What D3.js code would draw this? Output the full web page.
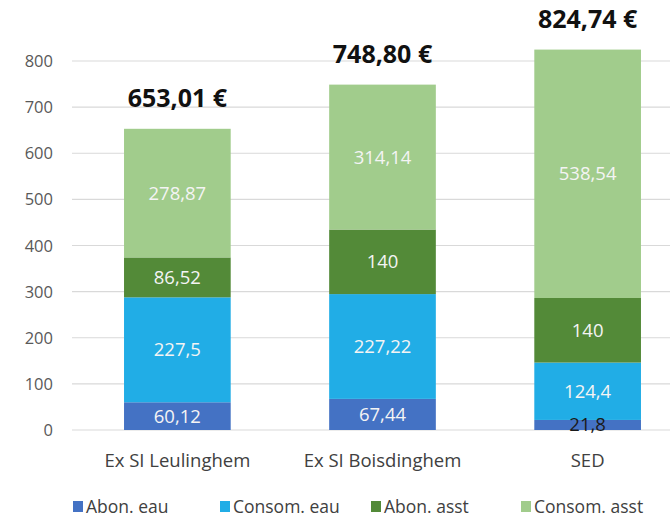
<!DOCTYPE html>
<html><head><meta charset="utf-8">
<script src="https://cdn.jsdelivr.net/npm/d3@7"></script>
<style>
body{margin:0;background:#fff;}
svg{display:block;font-family:"Open Sans",Lato,sans-serif;}
.grid line{stroke:#d9d9d9;stroke-width:1.2;}
.axis text{fill:#595959;font-size:16.5px;}
</style></head><body>
<div id="chart"></div>
<script>
const categories=['Ex SI Leulinghem','Ex SI Boisdinghem','SED'];
const abonEau=[60.12,67.44,21.8];
const consomEau=[227.5,227.22,124.4];
const abonAsst=[86.52,140,140];
const consomAsst=[278.87,314.14,538.54];
const seriesNames=['Abon. eau','Consom. eau','Abon. asst','Consom. asst'];
const yTicks=[0,100,200,300,400,500,600,700,800];

(function(){
  const W=670,H=518;
  const cols=['#4472c4','#21ade6','#538a38','#a1cc8c'];
  const vals=[abonEau,consomEau,abonAsst,consomAsst];
  const fr=d3.formatLocale({decimal:',',thousands:' ',grouping:[3],currency:['',' €']});
  const fmtTot=fr.format('.2f');
  const fmtVal=v=>String(v).replace('.',',');

  const svg=d3.select('#chart').append('svg').attr('width',W).attr('height',H);
  const y=d3.scaleLinear().domain([0,800]).range([430,61]);
  const x=d3.scaleBand().domain(categories).range([83,682]).paddingInner(.48).paddingOuter(.2);

  svg.append('g').attr('class','grid')
    .selectAll('line').data(yTicks).join('line')
    .attr('x1',72).attr('x2',W).attr('y1',d=>y(d)).attr('y2',d=>y(d));
  svg.append('g').attr('class','axis')
    .selectAll('text').data(yTicks).join('text')
    .attr('x',53).attr('y',d=>y(d)+6).attr('text-anchor','end').text(d=>d);

  const data=categories.map((c,i)=>{const r={cat:c};seriesNames.forEach((s,k)=>r[s]=vals[k][i]);return r;});
  const stack=d3.stack().keys(seriesNames)(data);

  stack.forEach((ser,k)=>{
    svg.append('g').selectAll('rect').data(ser).join('rect')
      .attr('x',d=>x(d.data.cat)).attr('width',x.bandwidth())
      .attr('y',d=>y(d[1])).attr('height',d=>y(d[0])-y(d[1]))
      .attr('fill',cols[k]);
  });
  // segment labels (tiny segment gets dark text, as in the source)
  stack.forEach((ser,k)=>{
    svg.append('g').selectAll('text').data(ser).join('text')
      .attr('x',d=>x(d.data.cat)+x.bandwidth()/2)
      .attr('y',d=>y((d[0]+d[1])/2)+6.5)
      .attr('text-anchor','middle').attr('font-size',18.5)
      .attr('fill',d=>(d[1]-d[0])<30?'#1a1a1a':'#f4f4f4')
      .text(d=>fmtVal(+(d[1]-d[0]).toFixed(2)));
  });

  // totals
  const tot=d=>seriesNames.reduce((a,s)=>a+d[s],0);
  svg.append('g').selectAll('text').data(data).join('text')
    .attr('x',d=>x(d.cat)+x.bandwidth()/2)
    .attr('y',d=>y(tot(d))-22)
    .attr('text-anchor','middle').attr('font-size',25).attr('font-weight',700).attr('fill','#111')
    .text(d=>fmtTot(tot(d))+' €');

  // category labels
  svg.append('g').selectAll('text').data(categories).join('text')
    .attr('x',d=>x(d)+x.bandwidth()/2).attr('y',467)
    .attr('text-anchor','middle').attr('font-size',18.5).attr('fill','#404040').text(d=>d);

  // legend
  const legX=[73,220,371,521];
  const leg=svg.append('g').attr('transform','translate(0,513)');
  seriesNames.forEach((s,i)=>{
    const g=leg.append('g').attr('transform',`translate(${legX[i]},0)`);
    g.append('rect').attr('x',0).attr('y',-12).attr('width',10).attr('height',11).attr('fill',cols[i]);
    g.append('text').attr('x',13).attr('y',0).attr('font-size',17.5).attr('fill','#404040').text(s);
  });
})();
</script>
</body></html>
